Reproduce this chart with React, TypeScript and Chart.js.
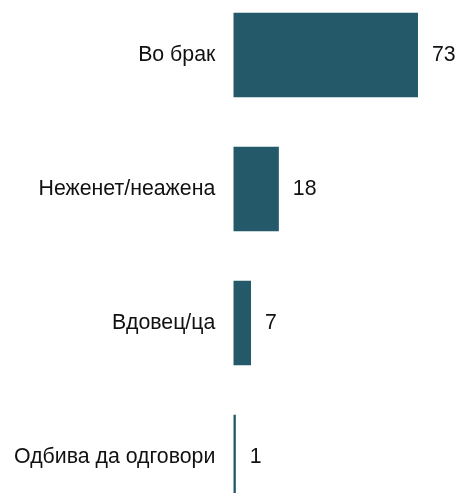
import React, { useEffect, useRef } from "react";
import { Chart, registerables } from "chart.js";

Chart.register(...registerables);

const categories = ["Во брак", "Нежене‌т/неажена".replace("\u200c", ""), "Вдовец/ца", "Одбива да одговори"];
const values = [73, 18, 7, 1];
const xMax = 90;
const barColor = "#235969";
const textColor = "#111111";
const fontFamily = "'Liberation Sans', Arial, sans-serif";
const fontSize = 21.3;

const valueLabels = {
  id: "valueLabels",
  afterDatasetsDraw(chart: any) {
    const ctx = chart.ctx;
    const meta = chart.getDatasetMeta(0);
    ctx.save();
    ctx.fillStyle = textColor;
    ctx.font = `${fontSize}px ${fontFamily}`;
    ctx.textAlign = "left";
    ctx.textBaseline = "middle";
    meta.data.forEach((bar: any, i: number) => {
      ctx.fillText(String(values[i]), bar.x + 14, bar.y);
    });
    ctx.restore();
  },
};

export default function App() {
  const ref = useRef<HTMLCanvasElement | null>(null);
  useEffect(() => {
    if (!ref.current) return;
    const chart = new Chart(ref.current, {
      type: "bar",
      data: {
        labels: categories,
        datasets: [
          {
            data: values,
            backgroundColor: barColor,
            borderWidth: 0,
            categoryPercentage: 1,
            barPercentage: 0.63,
          },
        ],
      },
      options: {
        indexAxis: "y",
        responsive: false,
        animation: false,
        layout: { padding: 0 },
        plugins: { legend: { display: false }, tooltip: { enabled: false } },
        scales: {
          x: { display: false, min: 0, max: xMax },
          y: {
            grid: { display: false, drawTicks: false },
            border: { display: false },
            ticks: {
              color: textColor,
              padding: 18,
              font: { family: fontFamily, size: fontSize },
            },
            afterFit(scale: any) {
              scale.width = 233.3;
              scale.paddingTop = 0;
              scale.paddingBottom = 0;
            },
          },
        },
      },
      plugins: [valueLabels],
    });
    return () => chart.destroy();
  }, []);
  return (
    <div
      style={{
        position: "fixed",
        left: 0,
        top: 0,
        width: 461,
        height: 493,
        overflow: "hidden",
        background: "#fff",
      }}
    >
      <canvas
        ref={ref}
        width={461}
        height={536}
        style={{ position: "absolute", left: 0, top: -12.4, display: "block" }}
      />
    </div>
  );
}
